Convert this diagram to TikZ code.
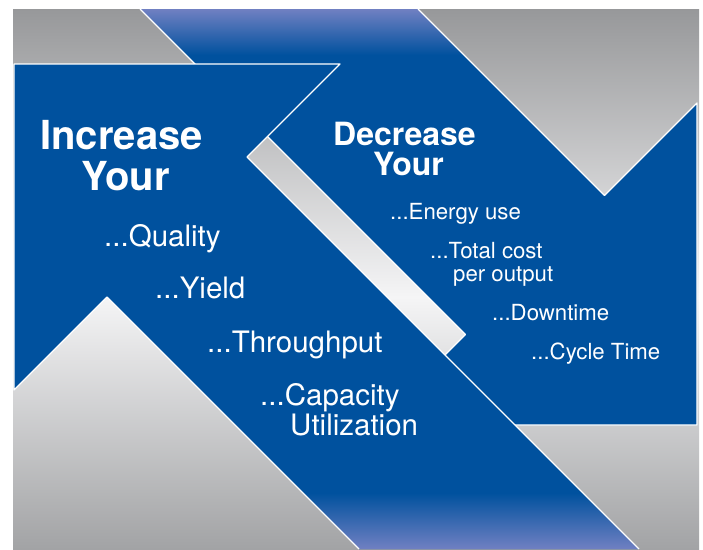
\documentclass[tikz,border=0pt]{standalone}
\usepackage{fontspec}
\setmainfont{TeX Gyre Heros}
\definecolor{arrowblue}{RGB}{0,81,158}
\definecolor{paleblue}{RGB}{112,128,194}
\definecolor{graydark}{RGB}{151,152,154}
\definecolor{graylight}{RGB}{245,245,246}
\definecolor{graybot}{RGB}{162,163,165}
\begin{document}
\begin{tikzpicture}[x=1pt,y=-1pt,
  outline/.style={draw=white,line width=1.2pt,line join=round},
  bigtitle/.style={text=white,font=\bfseries\fontsize{40}{40}\selectfont,anchor=base west,inner sep=0pt},
  smalltitle/.style={text=white,font=\bfseries\fontsize{32}{32}\selectfont,anchor=base west,inner sep=0pt},
  incitem/.style={text=white,font=\fontsize{29.5}{29.5}\selectfont,anchor=base west,inner sep=0pt},
  decitem/.style={text=white,font=\fontsize{22.2}{22.2}\selectfont,anchor=base west,inner sep=0pt}]
\useasboundingbox (0,0) rectangle (703,549);
% background frame
\shade[top color=graydark,bottom color=graylight] (13,9) rectangle (699,297.5);
\shade[top color=graylight,bottom color=graybot] (13,297) rectangle (699,549);
% decrease arrow (points down-right)
\fill[arrowblue] (140,9) -- (418,9) -- (604.5,195.5) -- (697,103) -- (697,425) -- (375,425) -- (465.5,334.5) -- cycle;
\begin{scope}
  \clip (140,9) -- (418,9) -- (604.5,195.5) -- (465.5,334.5) -- cycle;
  \shade[top color=paleblue,bottom color=arrowblue] (13,9) rectangle (699,55);
\end{scope}
\draw[outline] (418,9) -- (604.5,195.5) -- (697,103) -- (697,425) -- (375,425) -- (465.5,334.5) -- (140,9);
% increase arrow (points up-left)
\fill[arrowblue] (14,64) -- (340,64) -- (247,157) -- (639,549) -- (359,549) -- (107,297) -- (14,390) -- cycle;
\begin{scope}
  \clip (14,64) -- (340,64) -- (247,157) -- (639,549) -- (359,549) -- (107,297) -- (14,390) -- cycle;
  \shade[top color=arrowblue,bottom color=paleblue] (13,493) rectangle (699,549);
\end{scope}
\draw[outline] (359,549) -- (107,297) -- (14,390) -- (14,64) -- (340,64) -- (247,157) -- (639,549);
% texts
\node[bigtitle] (inc1) at (40,149) {Increase};
\node[bigtitle] (inc2) at (81,190) {Your};
\node[incitem] (iq) at (104,246) {...Quality};
\node[incitem] (iy) at (155,298) {...Yield};
\node[incitem] (it) at (207,352) {...Throughput};
\node[incitem] (ic) at (260,405) {...Capacity};
\node[incitem] (iu) at (290,435) {Utilization};
\node[smalltitle] (dec1) at (333,145) {Decrease};
\node[smalltitle] (dec2) at (373,175) {Your};
\node[decitem] (de) at (390,219) {...Energy use};
\node[decitem] (dt) at (430,258) {...Total cost};
\node[decitem] (dp) at (453,281) {per output};
\node[decitem] (dd) at (492,320) {...Downtime};
\node[decitem] (dc) at (531,359) {...Cycle Time};
\end{tikzpicture}
\end{document}
